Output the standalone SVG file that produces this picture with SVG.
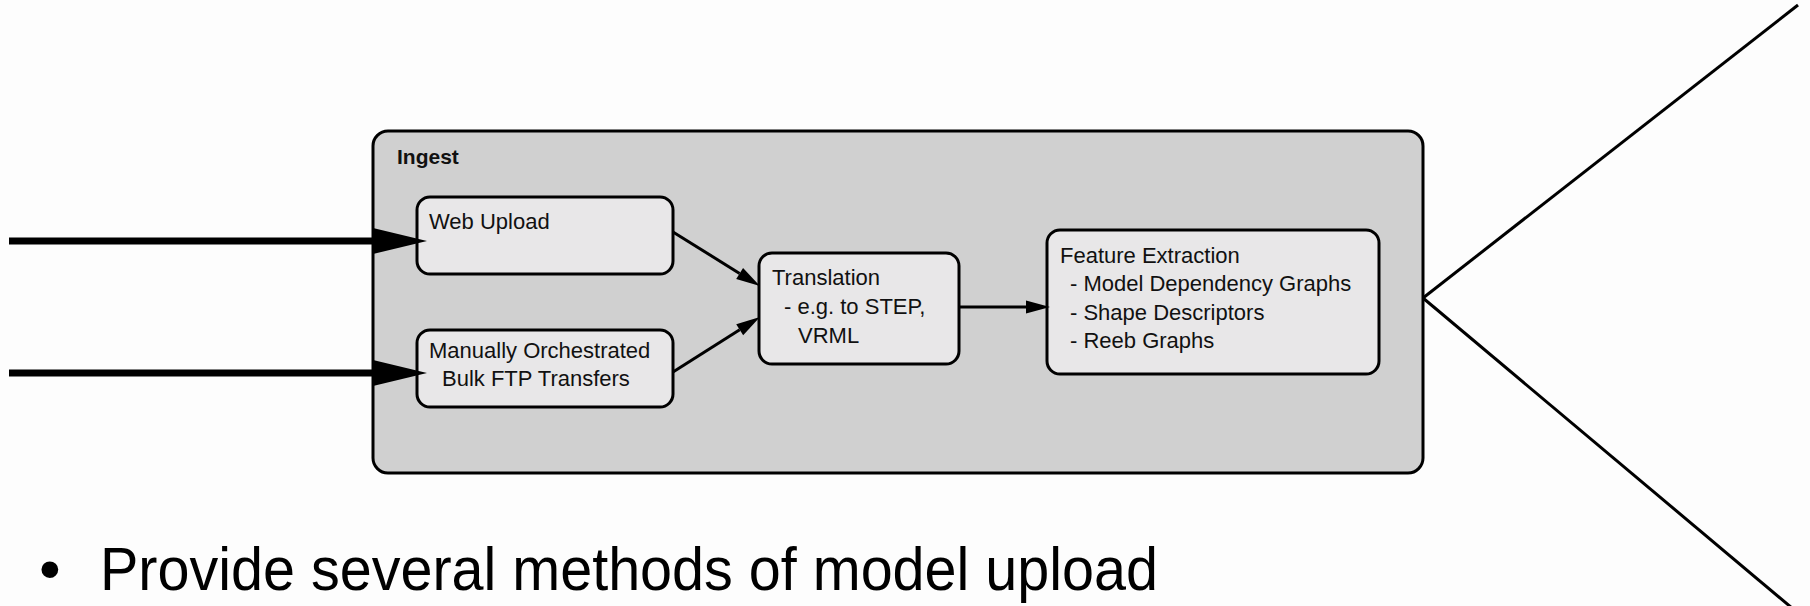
<svg xmlns="http://www.w3.org/2000/svg" width="1810" height="606" viewBox="0 0 1810 606">
<style>
.bg{fill:#fdfdfd}
.group{fill:#d0d0d0;stroke:#000;stroke-width:3}
.node{fill:#e8e7e8;stroke:#000;stroke-width:3}
.t{font-family:"Liberation Sans",Arial,Helvetica,sans-serif;font-size:22px;fill:#111}
.gl{font-family:"Liberation Sans",Arial,Helvetica,sans-serif;font-size:21px;font-weight:bold;fill:#111}
.big{font-family:"Liberation Sans",Arial,Helvetica,sans-serif;font-size:62px;fill:#000}
.thick{stroke:#000;stroke-width:7;fill:none}
.thin{stroke:#000;stroke-width:3;fill:none}
</style>
<defs>
<marker id="bigArrow" markerUnits="userSpaceOnUse" markerWidth="56" markerHeight="28" refX="0" refY="13" orient="auto" overflow="visible">
<path d="M0,0 L54,13 L0,26 z" fill="#000"/>
</marker>
<marker id="smallArrow" markerUnits="userSpaceOnUse" markerWidth="26" markerHeight="14" refX="0" refY="6.5" orient="auto" overflow="visible">
<path d="M0,0 L24,6.5 L0,13 z" fill="#000"/>
</marker>
</defs>
<rect class="bg" x="0" y="0" width="1810" height="606"/>

<g id="ingest">
<rect class="group" x="373" y="131" width="1050" height="342" rx="15" ry="15"/>
<text class="gl" x="397" y="164">Ingest</text>
</g>

<g id="web-upload">
<rect class="node" x="417" y="197" width="256" height="77" rx="13" ry="13"/>
<text class="t" x="429" y="229">Web Upload</text>
</g>

<g id="bulk-ftp">
<rect class="node" x="417" y="330" width="256" height="77" rx="13" ry="13"/>
<text class="t" x="429" y="358">Manually Orchestrated</text>
<text class="t" x="442" y="386">Bulk FTP Transfers</text>
</g>

<g id="translation">
<rect class="node" x="759" y="253" width="200" height="111" rx="13" ry="13"/>
<text class="t" x="772" y="285">Translation</text>
<text class="t" x="784" y="314">- e.g. to STEP,</text>
<text class="t" x="798" y="343">VRML</text>
</g>

<g id="feature-extraction">
<rect class="node" x="1047" y="230" width="332" height="144" rx="13" ry="13"/>
<text class="t" x="1060" y="263">Feature Extraction</text>
<text class="t" x="1070" y="291">- Model Dependency Graphs</text>
<text class="t" x="1070" y="320">- Shape Descriptors</text>
<text class="t" x="1070" y="348">- Reeb Graphs</text>
</g>

<g id="connectors">
<line class="thick" x1="9" y1="241" x2="373" y2="241" marker-end="url(#bigArrow)"/>
<line class="thick" x1="9" y1="373" x2="373" y2="373" marker-end="url(#bigArrow)"/>
<line class="thin" x1="673" y1="232" x2="739.6" y2="273.4" marker-end="url(#smallArrow)"/>
<line class="thin" x1="673" y1="372" x2="739.7" y2="329.8" marker-end="url(#smallArrow)"/>
<line class="thin" x1="959" y1="307" x2="1026" y2="307" marker-end="url(#smallArrow)"/>
<line class="thin" x1="1423" y1="298" x2="1798" y2="5"/>
<line class="thin" x1="1423" y1="298" x2="1792" y2="608"/>
</g>

<g id="bullet">
<text class="big" x="39" y="590">•</text>
<text class="big" x="100" y="590" textLength="1058" lengthAdjust="spacingAndGlyphs">Provide several methods of model upload</text>
</g>
</svg>
